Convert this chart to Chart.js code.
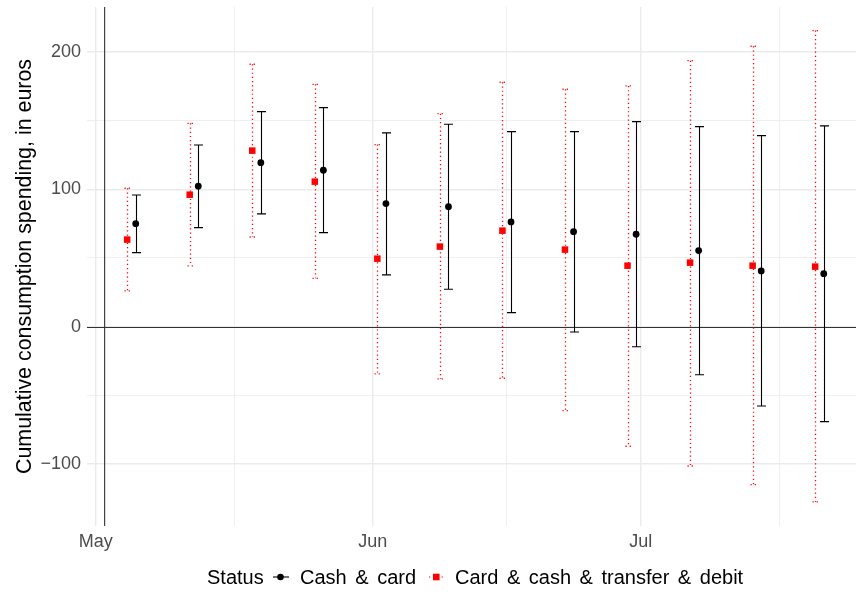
<!DOCTYPE html>
<html>
<head>
<meta charset="utf-8">
<script src="https://cdn.jsdelivr.net/npm/chart.js@4.4.1/dist/chart.umd.min.js"></script>
<style>
  html, body { margin: 0; padding: 0; background: #fff; }
  #wrap { position: relative; width: 856px; height: 592px; overflow: hidden; font-family: "Liberation Sans", Arial, sans-serif; }
  #chart { position: absolute; left: 0; top: 0; }
  .legend-text { position: absolute; top: 567px; font-size: 20px; line-height: 20px; color: #000; white-space: nowrap; word-spacing: 3px; }
  .legend-key { position: absolute; top: 569px; }
</style>
</head>
<body>
<div id="wrap">
  <canvas id="chart" width="856" height="592"></canvas>
  <span class="legend-text" style="left:207px">Status</span>
  <svg class="legend-key" style="left:272px" width="18" height="16">
    <line x1="1" y1="8" x2="17" y2="8" stroke="#000" stroke-width="1.1"></line>
    <circle cx="8.5" cy="8" r="3.3" fill="#000"></circle>
  </svg>
  <span class="legend-text" style="left:300px">Cash &amp; card</span>
  <svg class="legend-key" style="left:428px" width="18" height="16">
    <line x1="1" y1="8" x2="17" y2="8" stroke="#ff0000" stroke-width="1.2" stroke-dasharray="1.2 3"></line>
    <rect x="5" y="4.7" width="6.6" height="6.6" fill="#ff0000"></rect>
  </svg>
  <span class="legend-text" style="left:455px">Card &amp; cash &amp; transfer &amp; debit</span>
</div>
<script>
// weeks, as days counted from 1 May
const weekDays = [4, 11, 18, 25, 32, 39, 46, 53, 60, 67, 74, 81];

// Cash & card
const cashMean  = [75.0, 102.3, 119.4, 113.9, 89.6, 87.4, 76.3, 69.2, 67.3, 55.4, 40.6, 38.6];
const cashLow   = [53.9, 72.1, 82.1, 68.5, 37.7, 27.2, 10.2, -3.9, -14.6, -35.0, -57.8, -69.2];
const cashHigh  = [95.9, 132.3, 156.6, 159.5, 141.1, 147.4, 142.0, 142.0, 149.3, 145.7, 139.1, 146.2];

// Card & cash & transfer & debit
const allMean = [63.4, 96.1, 128.2, 105.6, 49.5, 58.3, 69.9, 56.1, 44.4, 46.6, 44.4, 43.7];
const allLow  = [26.0, 44.2, 65.3, 35.2, -34.4, -38.1, -37.6, -61.2, -87.1, -101.5, -115.1, -127.7];
const allHigh = [100.8, 148.1, 191.1, 176.5, 132.6, 155.1, 178.0, 172.9, 175.3, 193.7, 204.2, 215.6];

const monthTicks = [0, 31, 61];
const monthLabels = ["May", "Jun", "Jul"];
const minorXTicks = [15.5, 46, 76.5];
const yMajorTicks = [-100, 0, 100, 200];
const yMinorTicks = [-50, 50, 150];
const startDay = 1; // vertical reference line

const X_MIN = -0.974;
const X_MAX = 85.09;
const Y_MIN = -145.2;
const Y_MAX = 232.8;
const dodge = 0.48;
const gridColor = "#ebebeb";
const noColor = "rgba(0,0,0,0)";

// tiny font for unlabeled ticks so they don't add padding to the layout
const tickFont = (majors) => (c) => ({
  family: "Liberation Sans",
  size: !c.tick || majors.includes(c.tick.value) ? 18 : 1,
});

const errorBars = {
  id: "errorBars",
  beforeDatasetsDraw(chart) {
    const { ctx, chartArea, scales: { x, y } } = chart;
    ctx.save();

    // reference lines
    ctx.strokeStyle = "#333333";
    ctx.lineWidth = 1.1;
    ctx.beginPath();
    const y0 = Math.round(y.getPixelForValue(0)) + 0.5;
    ctx.moveTo(chartArea.left, y0);
    ctx.lineTo(chartArea.right, y0);
    const xv = x.getPixelForValue(startDay);
    ctx.moveTo(xv, chartArea.top);
    ctx.lineTo(xv, chartArea.bottom);
    ctx.stroke();

    const drawBars = (low, high, offset, color, dash, cap, width) => {
      ctx.strokeStyle = color;
      ctx.lineWidth = width;
      ctx.setLineDash(dash);
      weekDays.forEach((d, i) => {
        const px = Math.round(x.getPixelForValue(d + offset)) + 0.5;
        const yl = y.getPixelForValue(low[i]);
        const yh = y.getPixelForValue(high[i]);
        ctx.beginPath();
        ctx.moveTo(px, yh);
        ctx.lineTo(px, yl);
        ctx.moveTo(px - cap, yh);
        ctx.lineTo(px + cap, yh);
        ctx.moveTo(px - cap, yl);
        ctx.lineTo(px + cap, yl);
        ctx.stroke();
      });
    };

    drawBars(allLow, allHigh, -dodge, "#ff0000", [1.2, 3], 3, 1.3);
    drawBars(cashLow, cashHigh, dodge, "#000000", [], 4.5, 1.1);
    ctx.restore();
  },
};

new Chart(document.getElementById("chart"), {
  type: "scatter",
  data: {
    datasets: [
      {
        label: "Card & cash & transfer & debit",
        data: weekDays.map((d, i) => ({ x: d - dodge, y: allMean[i] })),
        pointStyle: "rect",
        pointRadius: 4.6,
        backgroundColor: "#ff0000",
        borderWidth: 0,
      },
      {
        label: "Cash & card",
        data: weekDays.map((d, i) => ({ x: d + dodge, y: cashMean[i] })),
        pointStyle: "circle",
        pointRadius: 3.4,
        backgroundColor: "#000000",
        borderWidth: 0,
      },
    ],
  },
  options: {
    responsive: false,
    animation: false,
    layout: { autoPadding: false, padding: { top: 7, right: 0, left: 0, bottom: 0 } },
    plugins: {
      legend: { display: false },
      tooltip: { enabled: false },
    },
    scales: {
      x: {
        type: "linear",
        min: X_MIN,
        max: X_MAX,
        afterBuildTicks: (scale) => {
          scale.ticks = [...monthTicks, ...minorXTicks, X_MAX]
            .sort((a, b) => a - b)
            .map((v) => ({ value: v }));
        },
        afterFit: (scale) => { scale.height = 66; },
        border: { display: false },
        grid: {
          color: (c) => (c.tick && c.tick.value === X_MAX ? noColor : gridColor),
          lineWidth: (c) => (c.tick && monthTicks.includes(c.tick.value) ? 1.4 : 0.8),
          drawTicks: true,
          tickLength: 5,
          tickColor: noColor,
        },
        ticks: {
          autoSkip: false,
          maxRotation: 0,
          padding: 0,
          color: "#4d4d4d",
          font: tickFont(monthTicks),
          callback: (v) => {
            const k = monthTicks.indexOf(v);
            return k >= 0 ? monthLabels[k] : "";
          },
        },
      },
      y: {
        min: Y_MIN,
        max: Y_MAX,
        afterBuildTicks: (scale) => {
          scale.ticks = [Y_MIN, ...yMajorTicks, ...yMinorTicks, Y_MAX]
            .sort((a, b) => a - b)
            .map((v) => ({ value: v }));
        },
        afterFit: (scale) => { scale.width = 87; },
        border: { display: false },
        grid: {
          color: (c) => (c.tick && (c.tick.value === Y_MIN || c.tick.value === Y_MAX) ? noColor : gridColor),
          lineWidth: (c) => (c.tick && yMajorTicks.includes(c.tick.value) ? 1.4 : 0.8),
          drawTicks: true,
          tickLength: 6,
          tickColor: noColor,
        },
        ticks: {
          padding: 0,
          color: "#4d4d4d",
          font: tickFont(yMajorTicks),
          callback: (v) => (yMajorTicks.includes(v) ? String(v).replace("-", "\u2212") : ""),
        },
        title: {
          display: true,
          text: "Cumulative consumption spending, in euros",
          color: "#000",
          font: { family: "Liberation Sans", size: 21.4 },
          padding: { top: 12, bottom: 0 },
        },
      },
    },
  },
  plugins: [errorBars],
});
</script>
</body>
</html>
